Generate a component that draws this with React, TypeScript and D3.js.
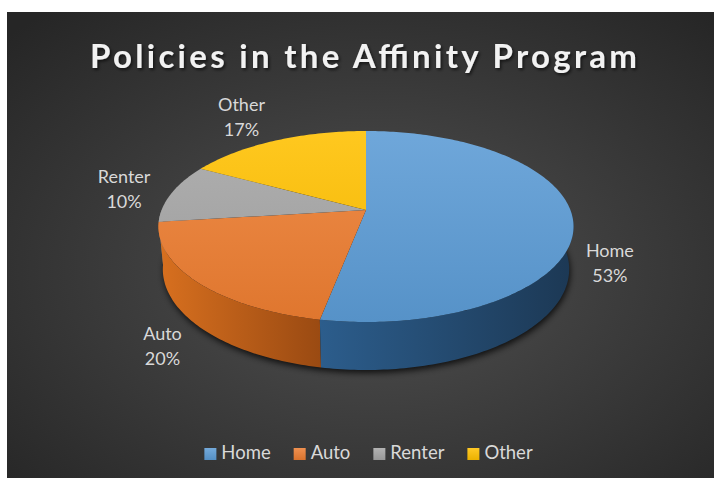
import React from "react";
import * as d3 from "d3";

const categories = ["Home", "Auto", "Renter", "Other"];
const values = [53, 20, 10, 17];
const colors = ["#5B9BD5", "#ED7D31", "#A5A5A5", "#FFC000"];
const wallLight = ["#2c5d8c", "#d8701f", "#8c8c8c", "#cc9a00"];
const wallDark = ["#1c3854", "#9a4a12", "#666666", "#9c7600"];
const titleText = "Policies in the Affinity Program";

const W = 714;
const H = 478;
// projection parameters (perspective 3D pie)
const CX = 366;
const CY = 210;
const F = 1053.9;
const DIST = 5.156;
const SA = 0.4533;
const CA = 0.8913;
const DEPTH = 0.236;

function project(thetaDeg: number, r: number, y: number): [number, number] {
  const t = (thetaDeg * Math.PI) / 180;
  const X = r * Math.sin(t);
  const Z = r * Math.cos(t);
  const yv = Z * SA + y * CA;
  const d = DIST + Z * CA - y * SA;
  return [CX + (F * X) / d, CY - (F * yv) / d];
}

const line = d3.line<[number, number]>();

function sampleAngles(a: number, b: number): number[] {
  const n = Math.max(2, Math.ceil(Math.abs(b - a)));
  return d3.range(n + 1).map((i) => a + ((b - a) * i) / n);
}

let measureCtx: CanvasRenderingContext2D | null = null;
function measure(text: string, font: string): number {
  if (!measureCtx) measureCtx = document.createElement("canvas").getContext("2d");
  if (!measureCtx) return text.length * 9;
  measureCtx.font = font;
  return measureCtx.measureText(text).width;
}

export default function App() {
  const pie = d3
    .pie<number>()
    .sort(null)
    .startAngle(0)
    .endAngle(2 * Math.PI)
    .value((d) => d);
  const arcs = pie(values).map((a, i) => ({
    i,
    a0: (a.startAngle * 180) / Math.PI,
    a1: (a.endAngle * 180) / Math.PI,
    value: a.value,
  }));

  // top faces
  const tops = arcs.map((s) => {
    const pts: [number, number][] = [project(0, 0, 0)];
    sampleAngles(s.a0, s.a1).forEach((t) => pts.push(project(t, 1, 0)));
    return { ...s, d: line(pts) + "Z" };
  });

  // walls (front-visible range)
  const walls = arcs
    .map((s) => {
      const a = Math.max(s.a0, 90);
      const b = Math.min(s.a1, 270);
      if (b <= a) return null;
      const ang = sampleAngles(a, b);
      const topPts = ang.map((t) => project(t, 1, 0));
      const botPts = ang.slice().reverse().map((t) => project(t, 1, -DEPTH));
      const all = topPts.concat(botPts);
      const xs = all.map((p) => p[0]);
      return {
        ...s,
        d: line(all) + "Z",
        x0: d3.min(xs) as number,
        x1: d3.max(xs) as number,
        depth: Math.cos((((a + b) / 2) * Math.PI) / 180),
      };
    })
    .filter((w) => w !== null)
    .sort((p: any, q: any) => q.depth - p.depth) as any[];

  const shadowPts = sampleAngles(0, 360).map((t) => project(t, 1, -DEPTH));
  const shadowD = line(shadowPts) + "Z";

  const topY0 = project(0, 1, 0)[1];
  const topY1 = project(180, 1, 0)[1];

  // labels (best-fit outside the pie)
  const labels = arcs.map((s) => {
    const mid = (s.a0 + s.a1) / 2;
    const cs = Math.cos((mid * Math.PI) / 180);
    const front = cs < 0;
    const p = front ? project(mid, 1.2, -DEPTH) : project(mid, 1.25, 0);
    const x = front ? p[0] : p[0] - 20 * cs * cs;
    const y = front ? p[1] : p[1] - 12 * cs * cs;
    return { ...s, x, y, pct: Math.round((s.value / d3.sum(values)) * 100) + "%" };
  });

  // legend layout
  const legendFont = "18.5px Lato";
  const sq = 12;
  const gapText = 5;
  const gapItem = 23;
  const widths = categories.map((c) => sq + gapText + measure(c, legendFont));
  const total = d3.sum(widths) + gapItem * (categories.length - 1);
  let lx = 368.5 - total / 2;
  const legendItems = categories.map((c, i) => {
    const item = { c, i, x: lx };
    lx += widths[i] + gapItem;
    return item;
  });
  const legendY = 459;

  return (
    <div style={{ position: "absolute", left: 0, top: 0 }}>
      <svg width={W} height={H} style={{ display: "block" }}>
        <defs>
          <radialGradient id="bg" cx="0.52" cy="0.55" r="0.72">
            <stop offset="0" stopColor="#515151" />
            <stop offset="1" stopColor="#262626" />
          </radialGradient>
          {colors.map((c, i) => (
            <linearGradient
              key={"tg" + i}
              id={"tg" + i}
              gradientUnits="userSpaceOnUse"
              x1={0}
              y1={topY0}
              x2={0}
              y2={topY1}
            >
              <stop offset="0" stopColor={d3.interpolateRgb(c, "#ffffff")(0.12)} />
              <stop offset="1" stopColor={d3.interpolateRgb(c, "#000000")(0.06)} />
            </linearGradient>
          ))}
          {colors.map((c, i) => (
            <linearGradient key={"lg" + i} id={"lg" + i} x1="0" y1="0" x2="0" y2="1">
              <stop offset="0" stopColor={d3.interpolateRgb(c, "#ffffff")(0.15)} />
              <stop offset="1" stopColor={d3.interpolateRgb(c, "#000000")(0.08)} />
            </linearGradient>
          ))}
          {walls.map((w: any) => (
            <linearGradient
              key={"wg" + w.i}
              id={"wg" + w.i}
              gradientUnits="userSpaceOnUse"
              x1={w.x0}
              y1={0}
              x2={w.x1}
              y2={0}
            >
              <stop offset="0" stopColor={wallLight[w.i]} />
              <stop offset="1" stopColor={wallDark[w.i]} />
            </linearGradient>
          ))}
          <filter id="blur" x="-20%" y="-20%" width="140%" height="140%">
            <feGaussianBlur stdDeviation="3" />
          </filter>
          <filter id="tshadow" x="-10%" y="-30%" width="120%" height="160%">
            <feDropShadow dx="1.5" dy="2" stdDeviation="1.5" floodColor="#000" floodOpacity="0.6" />
          </filter>
        </defs>
        <rect x={0} y={0} width={W} height={H} fill="#ffffff" />
        <rect x={7} y={12} width={W - 7} height={H - 12} fill="url(#bg)" />

        <text
          x={363.5}
          y={68}
          textAnchor="middle"
          fontFamily="Lato, 'Open Sans', sans-serif"
          fontWeight="bold"
          fontSize={33}
          fill="#f2f2f2"
          textLength={547}
          lengthAdjust="spacing"
          filter="url(#tshadow)"
        >
          {titleText}
        </text>

        <path d={shadowD} fill="#000" opacity={0.75} filter="url(#blur)" transform="translate(1,3)" />

        {walls.map((w: any) => (
          <path key={"w" + w.i} d={w.d} fill={`url(#wg${w.i})`} />
        ))}
        {tops.map((t) => (
          <path key={"t" + t.i} d={t.d} fill={`url(#tg${t.i})`} />
        ))}

        {labels.map((l) => (
          <g key={"l" + l.i} fontFamily="Lato, 'Open Sans', sans-serif" fontSize={18} fill="#d9d9d9" textAnchor="middle">
            <text x={l.x} y={l.y - 6}>{categories[l.i]}</text>
            <text x={l.x} y={l.y + 19}>{l.pct}</text>
          </g>
        ))}

        {legendItems.map((it) => (
          <g key={"lg" + it.i}>
            <rect x={it.x} y={legendY - 11} width={sq} height={sq} fill={`url(#lg${it.i})`} />
            <text
              x={it.x + sq + gapText}
              y={legendY}
              fontFamily="Lato, 'Open Sans', sans-serif"
              fontSize={18.5}
              fill="#d9d9d9"
            >
              {it.c}
            </text>
          </g>
        ))}
      </svg>
    </div>
  );
}
